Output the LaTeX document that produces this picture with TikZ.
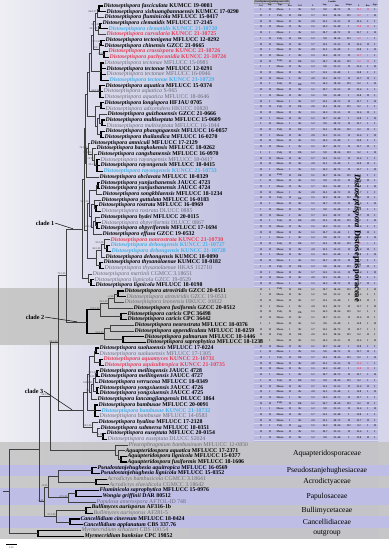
\documentclass[tikz,border=0pt]{standalone}
\usepackage{fontspec}
\setmainfont{Liberation Serif}
\usetikzlibrary{calc}
\definecolor{cred}{HTML}{E53D55}
\definecolor{cblue}{HTML}{46AEE6}
\definecolor{cgray}{HTML}{6A6A78}
\definecolor{bgL}{HTML}{EEEEF4}
\definecolor{bgR}{HTML}{C4C4E2}
\definecolor{bgS}{HTML}{D6D6EA}
\definecolor{tabA}{HTML}{B8B8E0}
\definecolor{bandG}{HTML}{C4C4C4}
\definecolor{bandL}{HTML}{BDBDE6}
\newcommand\SpB[2]{{\bfseries\textit{Distoseptispora #1} #2}}
\newcommand\SpG[2]{{\color{cgray}\textit{Distoseptispora #1} #2}}
\newcommand\SpR[2]{{\bfseries\color{cred}\textit{Distoseptispora #1} #2}}
\newcommand\SpL[2]{{\bfseries\color{cblue}\textit{Distoseptispora #1} #2}}
\newcommand\OtB[3]{{\bfseries\textit{#1 #2} #3}}
\newcommand\OtG[3]{{\color{cgray}\textit{#1 #2} #3}}
\newcommand\nd[4][br]{%
  \foreach \ch [count=\k] in {#4} {\ifnum\k=1 \xdef\ndfirst{\ch}\fi \xdef\ndlast{\ch}}%
  \path let \p1=($(\ndfirst)!0.5!(\ndlast)$) in coordinate (#2) at (#3pt,\y1);%
  \foreach \ch in {#4} {\draw[#1] (#2) |- (\ch);}%
}
\newcommand\spl[2]{\node[supp,anchor=south east] (s#1) at ($(#1)+(-0.4,-0.2)$) {#2};}
\def\colA{{"II","II","I","II","II"}}
\def\colB{{"II","I","II"}}
\def\colC{{"Mono","Mono","Poly","Mono"}}
\def\colD{{"II","I","II","II"}}
\def\colE{{"Br","Br","Dk","Br"}}
\def\colF{{"1.5","1.2","2.0","1.1","1.7"}}
\def\colG{{"10.7","12.1","9.8","14.3","11.5"}}
\def\colH{{"31–55","25–48","40–72","18–36"}}
\def\colI{{"II","I","II","III"}}
\def\colJ{{"13.7","9.2","15.4","11.8"}}
\def\colK{{"I","II","I"}}
\def\colL{{"I","I","II"}}
\newcommand\cellx[5][\rowcol]{\pgfmathparse{#3[int(mod(\k*#5+#2,#4))]}\let\cval\pgfmathresult
  \node[cell,text=#1] (c\k-#2) at (#2,\yy) {\cval};}
\begin{document}
\begin{tikzpicture}[x=1pt,y=-1pt,
  br/.style={line width=0.45pt,draw=black!75},
  bk/.style={line width=1.1pt,draw=black},
  tip/.style={anchor=west,inner sep=0.4pt,font=\fontsize{5.8}{6}\selectfont},
  supp/.style={inner sep=0pt,font=\fontsize{2.6}{3}\selectfont,text=black!75},
  cl/.style={inner sep=0.5pt,font=\fontsize{6.2}{7}\selectfont\bfseries},
  ptr/.style={line width=0.5pt,draw=black},
  fam/.style={inner sep=0pt,font=\fontsize{7.6}{8}\selectfont},
  cell/.style={inner sep=0pt,font=\fontsize{2.7}{2.9}\selectfont\bfseries},
  hd/.style={inner sep=0pt,font=\fontsize{2.3}{2.5}\selectfont\bfseries}]
\useasboundingbox (0,0) rectangle (389,550);
\fill[white] (0,0) rectangle (389,550);
\shade[left color=bgL,right color=bgR] (0,0) rectangle (222,538.95);
\fill[bgR] (222,0) rectangle (378,538.95);
\fill[bgS] (378,0) rectangle (389,538.95);
\fill[tabA] (254,0) rectangle (378,442.05);
% table row lines
\foreach \k in {1,...,77}{
  \pgfmathsetmacro\ya{10+(\k-1)*5.7-2.85}
  \draw[white,opacity=0.45,line width=0.3pt] (254,\ya) -- (378,\ya);}
% bands
\fill[bandG,opacity=0.9] (0,288.15) rectangle (378,345.15);
\fill[bandG,opacity=0.85] (0,442.05) rectangle (389,464.85);
\fill[bandL] (0,464.85) rectangle (389,476.25);
\fill[bandG,opacity=0.85] (0,476.25) rectangle (389,487.65);
\fill[bandL] (0,487.65) rectangle (389,504.75);
\fill[bandG,opacity=0.85] (0,504.75) rectangle (389,516.15);
\fill[bandL] (0,516.15) rectangle (389,527.55);
\fill[bandG,opacity=0.85] (0,527.55) rectangle (389,538.95);
% tips
\foreach \i/\tx/\nm in {
1/103/\SpB{fasciculata}{KUMCC 19-0081},
2/106/\SpB{xishuangbannaensis}{KUMCC 17-0290},
3/104/\SpB{fluminicola}{MFLUCC 15-0417},
4/102/\SpB{clematidis}{MFLUCC 17-2145},
5/108/\SpL{clematidis}{KUNCC 21-10720},
6/106/\SpR{curvularia}{KUNCC 21-10725},
7/105/\SpB{tectonigena}{MFLUCC 12-0292},
8/104/\SpB{chinensis}{GZCC 21-0665},
9/108/\SpR{crassispora}{KUNCC 21-10726},
10/109/\SpR{pachyconidia}{KUNCC 21-10724},
11/104/\SpG{tectonae}{MFLUCC 15-0981},
12/106/\SpB{tectonae}{MFLUCC 12-0291},
13/106/\SpG{tectonae}{MFLUCC 16-0946},
14/109/\SpL{tectonae}{KUNCC 21-10729},
15/105/\SpB{aquatica}{MFLUCC 15-0374},
16/103/\SpG{aquatica}{S-965},
17/104/\SpG{aquatica}{MFLUCC 18-0646},
18/104/\SpB{longispora}{HFJAU 0705},
19/105/\SpG{adscendens}{HKUCC 10820},
20/107/\SpB{guizhouensis}{GZCC 21-0666},
21/105/\SpB{multiseptata}{MFLUCC 15-0609},
22/106/\SpG{multiseptata}{MFLUCC 16-1044},
23/105/\SpB{phangngaensis}{MFLUCC 16-0857},
24/104/\SpB{thailandica}{MFLUCC 16-0270},
25/90/\SpB{amniculi}{MFLUCC 17-2129},
26/96/\SpB{bangkokensis}{MFLUCC 18-0262},
27/97/\SpB{cangshanensis}{MFLUCC 16-0970},
28/100/\SpG{rayongensis}{MFLUCC 18-0417},
29/100/\SpB{rayongensis}{MFLUCC 18-0415},
30/103/\SpL{rayongensis}{KUNCC 21-10733},
31/99/\SpB{obclavata}{MFLUCC 18-0329},
32/100/\SpB{yunjushanensis}{JAUCC 4723},
33/100/\SpB{yunjushanensis}{JAUCC 4724},
34/102/\SpB{songkhlaensis}{MFLUCC 18-1234},
35/101/\SpB{guttulata}{MFLUCC 16-0183},
36/98/\SpB{rostrata}{MFLUCC 16-0969},
37/101/\SpG{rostrata}{DLUCC 0885},
38/100/\SpB{hydei}{MFLUCC 20-0115},
39/101/\SpG{obpyriformis}{DLUCC 0867},
40/100/\SpB{obpyriformis}{MFLUCC 17-1694},
41/102/\SpB{effusa}{GZCC 19-0532},
42/110/\SpR{nonrostrata}{KUNCC 21-10730},
43/110/\SpL{dehongensis}{KUNCC 21-10727},
44/111/\SpL{dehongensis}{KUNCC 21-10728},
45/105/\SpB{dehongensis}{KUMCC 18-0090},
46/103/\SpB{thysanolaenae}{KUMCC 18-0182},
47/104/\SpG{thysanolaenae}{HKAS 112710},
48/92/\SpG{martinii}{CGMCC 3.18651},
49/94/\SpG{lignicola}{GZCC 19-0529},
50/95/\SpB{lignicola}{MFLUCC 18-0198},
51/124/\SpB{atroviridis}{GZCC 20-0511},
52/126/\SpG{atroviridis}{GZCC 19-0531},
53/124/\SpG{leonensis}{HKUCC 10822},
54/133/\SpB{fusiformis}{GZCC 20-0512},
55/127/\SpB{caricis}{CPC 36498},
56/127/\SpB{caricis}{CPC 36442},
57/134/\SpB{neorostrata}{MFLUCC 18-0376},
58/134/\SpB{appendiculata}{MFLUCC 18-0259},
59/144/\SpB{palmarum}{MFLUCC 18-1446},
60/146/\SpB{saprophytica}{MFLUCC 18-1238},
61/99/\SpB{suoluoensis}{MFLUCC 17-0224},
62/99/\SpG{suoluoensis}{MFLUCC 17-1305},
63/103/\SpR{aquamyces}{KUNCC 21-10731},
64/104/\SpR{aquisubtropica}{KUNCC 21-10735},
65/99/\SpB{meilingensis}{JAUCC 4728},
66/100/\SpB{meilingensis}{JAUCC 4727},
67/98/\SpB{verrucosa}{MFLUCC 18-0349},
68/99/\SpB{yongxiuensis}{JAUCC 4726},
69/99/\SpB{yongxiuensis}{JAUCC 4725},
70/97/\SpB{lancangjiangensis}{DLUCC 1864},
71/98/\SpB{bambusae}{MFLUCC 20-0091},
72/101/\SpL{bambusae}{KUNCC 21-10732},
73/99/\SpG{bambusae}{MFLUCC 14-0583},
74/98/\SpB{hyalina}{MFLUCC 17-2128},
75/100/\SpB{submersa}{MFLUCC 18-0351},
76/106/\SpB{euseptata}{MFLUCC 20-0154},
77/107/\SpG{euseptata}{DLUCC S2024},
78/128/\OtG{Pleurophragmium}{bambusinum}{MFLUCC 12-0850},
79/125/\OtB{Aquapteridospora}{aquatica}{MFLUCC 17-2371},
80/127/\OtB{Aquapteridospora}{lignicola}{MFLUCC 15-0377},
81/127/\OtB{Aquapteridospora}{fusiformis}{MFLUCC 18-1606},
82/97/\OtB{Pseudostanjehughesia}{aquitropica}{MFLUCC 16-0569},
83/100/\OtB{Pseudostanjehughesia}{lignicola}{MFLUCC 15-0352},
84/107/\OtG{Acrodictys}{bambusicola}{CGMCC 3.18641},
85/109/\OtG{Acrodictys}{elaeidicola}{CGMCC 3.18642},
86/99/\OtB{Fluminicola}{saprophytica}{MFLUCC 15-0976},
87/102/\OtB{Wongia}{griffinii}{DAR 80512},
88/96/\OtG{Papulosa}{amerospora}{AFTOL-ID 748},
89/91/\OtB{Bullimyces}{aurisporus}{AF316-1b},
90/93/\OtG{Bullimyces}{aurisporus}{AF281-5},
91/80/\OtB{Cancellidium}{cinereum}{MFLUCC 18-0424},
92/83/\OtB{Cancellidium}{applanatum}{CBS 337.76},
93/81/\OtG{Myrmecridium}{schulzeri}{CBS 100.54},
94/84/\OtB{Myrmecridium}{banksiae}{CPC 19852}}{
  \coordinate (t\i) at (\tx,{6+(\i-1)*5.7});
  \node[tip] (n\i) at (t\i) {\nm};}
% clade 1
\nd[bk]{a1}{99}{t1,t2}
\nd{a2}{97}{a1,t3}
\nd[bk]{a3}{100}{t4,t5}
\nd{a4}{98}{a3,t6}
\nd{a5}{95}{a2,a4}
\nd[bk]{a6}{101}{t7,t8}
\nd[bk]{a7}{104}{t9,t10}
\nd{a8}{99}{a6,a7}
\nd{a9}{93}{a5,a8}
\nd[bk]{a10}{101}{t11,t12,t13,t14}
\nd{a11}{91}{a9,a10}
\nd[bk]{a12}{100}{t15,t16,t17}
\nd{a13}{89}{a11,a12}
\nd[bk]{a14}{101}{t18,t19}
\nd[bk]{a15}{102}{t21,t22}
\nd{a16}{99}{t20,a15}
\nd[bk]{a17}{101}{t23,t24}
\nd{a18}{97}{a16,a17}
\nd{a19}{95}{a14,a18}
\nd{a20}{87}{a13,a19}
\nd[bk]{b1}{97}{t28,t29,t30}
\nd{b2}{94}{t27,b1}
\nd{b3}{92}{t26,b2}
\nd{b4}{88}{t25,b3}
\nd{b5}{86}{b4,t31}
\nd{U}{85}{a20,b5}
\nd[bk]{c1}{98}{t32,t33}
\nd{c2}{96}{c1,t34}
\nd[bk]{c3}{96}{t36,t37}
\nd{c4}{94}{t35,c3}
\nd[bk]{c5}{97}{t39,t40}
\nd{c6}{95}{t38,c5}
\nd{c7}{93}{c6,t41}
\nd{c8}{91}{c4,c7}
\nd{c9}{89}{c2,c8}
\nd[bk]{d1}{107}{t43,t44}
\nd{d2}{104}{t42,d1}
\nd{d3}{101}{d2,t45}
\nd[bk]{d4}{100}{t46,t47}
\nd{d5}{96}{d3,d4}
\nd{d6}{87}{c9,d5}
\nd{X}{84}{U,d6}
\nd[bk]{e1}{91}{t49,t50}
\nd{e2}{88}{t48,e1}
\nd{C1}{82}{X,e2}
% clade 2
\nd[bk]{f1}{118}{t51,t52}
\nd{f2}{114}{f1,t53}
\nd{f3}{108}{f2,t54}
\nd[bk]{f4}{121}{t55,t56}
\nd{f5}{100}{f3,f4}
\nd{f6}{110}{t57,t58}
\nd[bk]{f7}{123}{t59,t60}
\nd{f8}{104}{f6,f7}
\nd[bk]{C2}{87}{f5,f8}
\nd{C12}{66}{C1,C2}
% clade 3
\nd[bk]{g1}{96}{t61,t62}
\nd[bk]{g2}{100}{t63,t64}
\nd{g3}{94}{g1,g2}
\nd[bk]{g4}{97}{t65,t66}
\nd{g5}{95}{g4,t67}
\nd[bk]{g6}{97}{t68,t69}
\nd{g7}{93}{g5,g6}
\nd{g8}{91}{g7,t70}
\nd{g9}{89}{g3,g8}
\nd[bk]{g10}{95}{t71,t72,t73}
\nd{g11}{87}{g9,g10}
\nd[bk]{g12}{103}{t76,t77}
\nd{g13}{97}{t75,g12}
\nd{g14}{92}{t74,g13}
\nd{C3}{83}{g11,g14}
\nd{Dist}{58}{C12,C3}
% other families
\nd[bk]{h1}{121}{t80,t81}
\nd{h2}{118}{t79,h1}
\nd{Aq}{115}{t78,h2}
\nd{DA}{50}{Dist,Aq}
\nd[bk]{p1}{92}{t82,t83}
\nd[bk]{p2}{96}{t84,t85}
\nd{p3}{58}{p1,p2}
\nd[bk]{p4}{76}{t86,t87}
\nd{p5}{68}{p4,t88}
\nd{P}{48}{p3,p5}
\nd[bk]{q1}{86}{t89,t90}
\nd[bk]{q2}{70}{t91,t92}
\nd{Q}{56}{q1,q2}
\nd{PQ}{44}{P,Q}
\nd{IN}{39}{DA,PQ}
\nd[bk]{o1}{38}{t93,t94}
\nd{ROOT}{9}{IN,o1}
\coordinate (rstub) at ($(ROOT)+(-6,0)$);
\draw[br] (ROOT) -- (rstub);
% supports
\spl{a2}{84/0.97}\spl{a3}{98/1.00}\spl{a4}{98/1.00}\spl{a8}{93/-}
\spl{a6}{97/1.00}\spl{a7}{-/0.99}\spl{a12}{84/0.98}\spl{b4}{76/1.00}
\spl{b1}{99/1.00}\spl{b2}{-/0.98}\spl{b3}{95/1.00}\spl{c9}{99/1.00}
\spl{c7}{91/1.00}\spl{d2}{99/1.00}\spl{d3}{86/1.00}\spl{C12}{79/1.00}
\spl{f2}{-/1.00}\spl{f3}{99/1.00}\spl{f5}{100/1.00}\spl{f8}{84/0.99}
\spl{Dist}{88/1.00}\spl{DA}{98/1.00}\spl{g5}{-/0.95}\spl{g4}{99/1.00}
\spl{g7}{100/0.99}\spl{g8}{75/-}\spl{g14}{98/1.00}\spl{g12}{-/0.98}
\spl{P}{-/0.93}\spl{p5}{67/1.00}\spl{PQ}{-/0.90}\spl{Q}{97/1.00}
% clade labels
\coordinate (k1) at ($(C1)+(-9,0)$);
\coordinate (k2) at ($(C2)+(-10,0)$);
\coordinate (k3) at ($(C3)+(-11,0)$);
\node[cl] (L1) at (45,223) {clade 1};
\node[cl] (L2) at (35,317) {clade 2};
\node[cl] (L3) at (34,391) {clade 3};
\draw[ptr] (L1.east) -- (k1);
\draw[ptr] (L2.east) -- (k2);
\draw[ptr] (L3.east) -- (k3);
% family labels
\node[fam] (fAq) at (327,453.45) {Aquapteridosporaceae};
\node[fam] (fPs) at (327,470.55) {Pseudostanjehughesiaceae};
\node[fam] (fAc) at (327,481.95) {Acrodictyaceae};
\node[fam] (fPa) at (327,496.2) {Papulosaceae};
\node[fam] (fBu) at (327,510.45) {Bullimycetaceae};
\node[fam] (fCa) at (327,521.85) {Cancellidiaceae};
\node[fam] (fOu) at (327,533.25) {outgroup};
% table header
\node[hd,draw=black!40,line width=0.2pt,inner sep=0.4pt] (g1h) at (262,1.8) {Conidiophores};
\node[hd,draw=black!40,line width=0.2pt,inner sep=0.4pt] (g2h) at (279,1.8) {Conidiogenous cells};
\node[hd] (g3h) at (332,1.8) {Conidia};
\foreach \hx/\hdt [count=\j] in {261/Col.,270/Sep.,280/Type,290/Pro.,300/Col.,313/L/W,325/Sep.,337/Size,349/Shape,359/L/W,368/Ros.,375/App.}{
  \node[hd] (h\j) at (\hx,5.4) {\hdt};}
% table cells
\foreach \k in {1,...,76}{
  \pgfmathsetmacro\yy{10+(\k-1)*5.7}
  \gdef\rowcol{black!85}\gdef\redcol{black!85}
  \foreach \r in {1,2,4,6,9,10,42,63,64}{\ifnum\k=\r\relax\gdef\redcol{cred}\fi}
  \cellx{261}{\colA}{5}{1}\cellx{270}{\colB}{3}{2}\cellx{280}{\colC}{4}{1}
  \cellx{290}{\colD}{4}{3}\cellx{300}{\colE}{4}{1}\cellx{313}{\colF}{5}{3}
  \cellx{325}{\colG}{5}{2}\cellx{337}{\colH}{4}{1}\cellx{349}{\colI}{4}{3}
  \cellx[\redcol]{359}{\colJ}{4}{1}\cellx[\redcol]{368}{\colK}{3}{2}\cellx{375}{\colL}{3}{1}}
\node[rotate=-90,inner sep=0pt,font=\fontsize{8.5}{9}\selectfont\bfseries] (vlab) at (357,238) {\textit{Distoseptispora} Distoseptisporaceae};
% scale bar
\coordinate (sb1) at (6,544.5);
\coordinate (sb2) at (17,544.5);
\draw[line width=0.5pt] (sb1) -- (sb2);
\node[supp] (sbl) at (11.5,547.8) {0.05};
\end{tikzpicture}
\end{document}
